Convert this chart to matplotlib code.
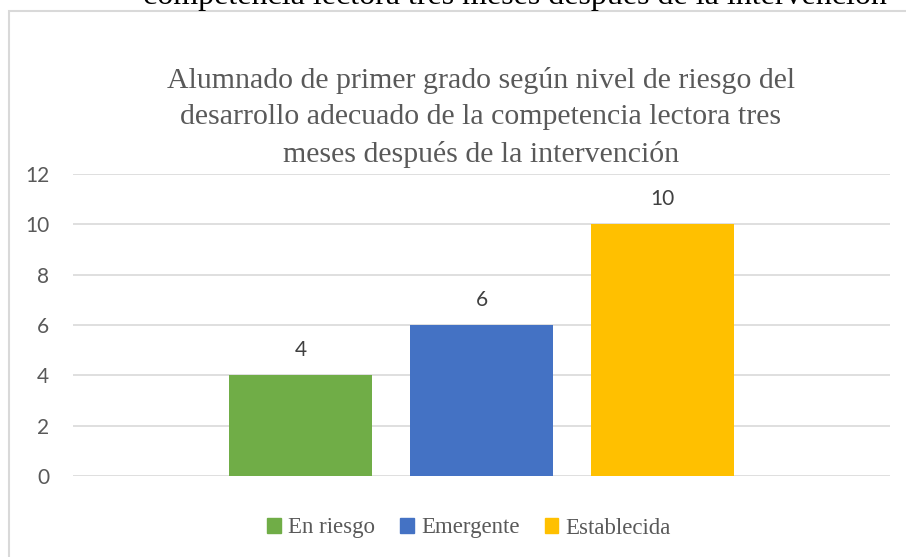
import matplotlib.pyplot as plt
from matplotlib.patches import Rectangle, Patch

# Datos
categorias = ['En riesgo', 'Emergente', 'Establecida']
valores = [4, 6, 10]
colores = ['#70AD47', '#4472C4', '#FFC000']
ticks_y = [0, 2, 4, 6, 8, 10, 12]

titulo = ("Alumnado de primer grado según nivel de riesgo del\n"
          "desarrollo adecuado de la competencia lectora tres\n"
          "meses después de la intervención")
texto_cortado = "competencia lectora tres meses después de la intervención"

W, H = 906, 557
fig = plt.figure(figsize=(W / 100, H / 100), dpi=100)

# Marco del gráfico (se sale por la derecha y por abajo)
fig.patches.append(Rectangle((9 / W, -0.1), 1.2, 1 - 11 / H + 0.1,
                             transform=fig.transFigure, fill=False,
                             edgecolor='#D9D9D9', lw=1.5))

# Texto del documento que queda cortado arriba
fig.text(515 / W, 1 - 4 / H, texto_cortado, ha='center', va='baseline',
         fontsize=23, family='Liberation Serif', color='black')

ax = fig.add_axes([73 / W, 1 - 476 / H, (890 - 73) / W, (476 - 174) / H])
x = range(len(categorias))
barras = ax.bar(x, valores, width=0.79, color=colores, zorder=3)

for xi, v in zip(x, valores):
    ax.annotate(str(v), (xi, v), xytext=(0, 25), textcoords='offset pixels',
                ha='center', va='center', fontsize=15, family='Lato',
                color='#404040')

ax.set_ylim(0, 12)
ax.set_xlim(-1.257, 3.257)
ax.set_yticks(ticks_y)
ax.set_xticks([])
ax.grid(axis='y', color='#D9D9D9', lw=1.2, zorder=0)
ax.tick_params(axis='y', length=0, pad=17, labelsize=15, labelcolor='#595959')
for lbl in ax.get_yticklabels():
    lbl.set_family('Lato')
for s in ax.spines.values():
    s.set_visible(False)

fig.text(481 / W, 1 - 67 / H, titulo, ha='center', va='top', fontsize=21.5,
         family='Liberation Serif', color='#595959', linespacing=1.52)

handles = [Patch(color=c, label=n) for c, n in zip(colores, categorias)]
fig.legend(handles=handles, loc='center', bbox_to_anchor=(469 / W, 1 - 528 / H),
           ncol=3, frameon=False, prop={'family': 'Liberation Serif', 'size': 16.5},
           labelcolor='#595959', handlelength=0.6, handleheight=0.6,
           handletextpad=0.3, columnspacing=1.1)

fig.savefig('out.png', dpi=100)
